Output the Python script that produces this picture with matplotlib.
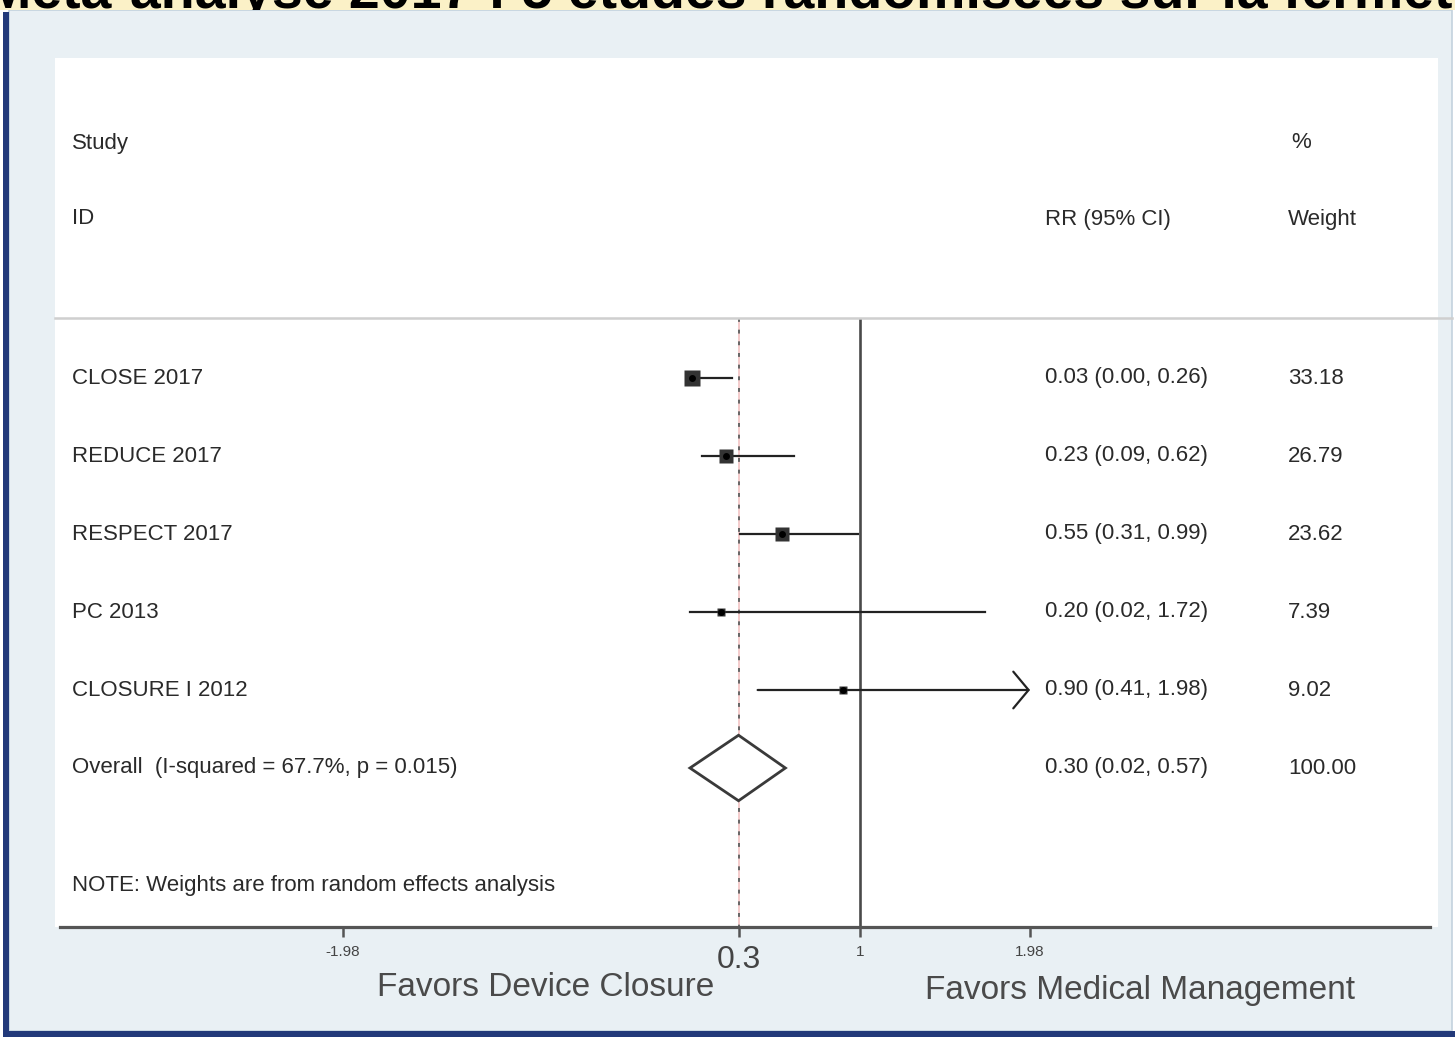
import matplotlib
matplotlib.use("Agg")
import matplotlib.pyplot as plt
from matplotlib.patches import Rectangle, Polygon
from matplotlib.lines import Line2D
import numpy as np

# ---- data -------------------------------------------------------------
studies = ["CLOSE 2017", "REDUCE 2017", "RESPECT 2017", "PC 2013", "CLOSURE I 2012"]
rr = [0.03, 0.23, 0.55, 0.20, 0.90]
ci_low = [0.00, 0.09, 0.31, 0.02, 0.41]
ci_high = [0.26, 0.62, 0.99, 1.72, 1.98]
weights = [33.18, 26.79, 23.62, 7.39, 9.02]

overall_label = "Overall  (I-squared = 67.7%, p = 0.015)"
overall_rr = 0.30
overall_low = 0.02
overall_high = 0.57
overall_weight = 100.00

null_value = 1
tick_values = [-1.98, 0.3, 1, 1.98]
tick_labels = ["-1.98", "0.3", "1", "1.98"]

note_text = "NOTE: Weights are from random effects analysis"
left_caption = "Favors Device Closure"
right_caption = "Favors Medical Management"
slide_title = "Méta-analyse 2017 : 5 études randomisées sur la fermeture du FOP"

# ---- layout (pixels) --------------------------------------------------
W, H = 1455, 1037
plt.rcParams["font.family"] = ["Liberation Sans", "DejaVu Sans"]
TXT = "#2a2a2a"
FS = 16


def fx(px):
    return px / W


def fy(py):
    return 1 - py / H


fig = plt.figure(figsize=(W / 100, H / 100), dpi=100, facecolor="white")

# window frame and slide background (kept behind the axes)
fig.patches.append(Rectangle((fx(9), fy(1031)), (1452 - 9) / W, (1031 - 10) / H,
                             transform=fig.transFigure, facecolor="#e9f0f4",
                             edgecolor="#c3d2de", linewidth=1.2, zorder=-3))
fig.patches.append(Rectangle((fx(3), fy(1037)), 6 / W, (1037 - 12) / H,
                             transform=fig.transFigure, facecolor="#22397a",
                             edgecolor="none", zorder=-2))
fig.patches.append(Rectangle((fx(3), fy(1037)), (W - 3) / W, 6 / H,
                             transform=fig.transFigure, facecolor="#22397a",
                             edgecolor="none", zorder=-2))

# clipped slide title strip at the very top
ax_t = fig.add_axes([0, fy(10), 1, 10 / H])
ax_t.set_facecolor("#fbf1c7")
ax_t.set_xticks([])
ax_t.set_yticks([])
for s in ax_t.spines.values():
    s.set_visible(False)
ax_t.text(-0.01, 0.2, slide_title, transform=ax_t.transAxes, fontsize=40,
          fontweight="bold", color="black", va="baseline",
          ha="left", clip_on=True)

# forest plot axes
AX_L, AX_R, AX_T, AX_B = 55, 1438, 58, 927
ZERO_PX, PX_PER_UNIT = 686.5, 173.5
ROW0_PX, ROW_STEP = 378, 78
ax = fig.add_axes([fx(AX_L), fy(AX_B), (AX_R - AX_L) / W, (AX_B - AX_T) / H])
ax.set_facecolor("white")


def xd(px):
    return (px - ZERO_PX) / PX_PER_UNIT


def row_of(py):
    return (py - ROW0_PX) / ROW_STEP


ax.set_xlim(xd(AX_L), xd(AX_R))
ax.set_ylim(row_of(AX_B), row_of(AX_T))

for name in ("top", "left", "right"):
    ax.spines[name].set_visible(False)
ax.spines["bottom"].set_color("#555555")
ax.spines["bottom"].set_linewidth(2.3)
ax.spines["bottom"].set_bounds(xd(60), xd(1430))
ax.set_yticks([])
ax.set_xticks(tick_values)
ax.set_xticklabels(tick_labels)
ax.tick_params(axis="x", direction="out", length=7, width=1.8, color="#555555",
               pad=6, labelsize=11, labelcolor="#444444")
for lab in ax.get_xticklabels():
    if lab.get_text() == "0.3":
        lab.set_fontsize(23)
        lab.set_color("#444444")

x_study = xd(72)
x_rr = xd(1045)
x_w = xd(1288)
y_sep = row_of(318)

# headers
ax.text(x_study, row_of(143), "Study", fontsize=FS, color=TXT, va="center")
ax.text(x_study, row_of(219), "ID", fontsize=FS, color=TXT, va="center")
ax.text(x_rr, row_of(219), "RR (95% CI)", fontsize=FS, color=TXT, va="center")
ax.text(xd(1291), row_of(143), "%", fontsize=FS, color=TXT, va="center")
ax.text(x_w, row_of(219), "Weight", fontsize=FS, color=TXT, va="center")
fig.add_artist(Line2D([fx(AX_L), fx(1452)], [fy(318), fy(318)], color="#cfcfcf",
                      linewidth=1.8))

# reference lines
ax.vlines(null_value, y_sep, row_of(AX_B), color="#4a4a4a", linewidth=1.9, zorder=2)
ax.vlines(overall_rr, y_sep, row_of(AX_B), color="#f2c4c4", linewidth=1.2, zorder=2)
ax.vlines(overall_rr, y_sep, row_of(AX_B), color="#666666", linewidth=1.4,
          linestyles=(0, (2, 4)), zorder=2)

# study rows
axis_max = max(tick_values)
for i, (name, est, lo, hi, w) in enumerate(zip(studies, rr, ci_low, ci_high, weights)):
    if hi >= axis_max:
        ax.annotate("", xy=(axis_max, i), xytext=(lo, i),
                    arrowprops=dict(arrowstyle="->,head_length=0.5,head_width=0.6",
                                    color="#222222", lw=1.6, shrinkA=0, shrinkB=0,
                                    mutation_scale=22), zorder=3)
    else:
        ax.plot([lo, hi], [i, i], color="#222222", linewidth=1.6, zorder=3)
    side = 16 * np.sqrt(w / max(weights)) * 0.72
    ax.plot(est, i, marker="s", markersize=side, color="#333333", mec="none", zorder=4)
    ax.plot(est, i, marker="o", markersize=5, color="black", mec="none", zorder=5)
    ax.text(x_study, i, name, fontsize=FS, color=TXT, va="center")
    ax.text(x_rr, i, f"{est:.2f} ({lo:.2f}, {hi:.2f})", fontsize=FS, color=TXT,
            va="center")
    ax.text(x_w, i, f"{w:.2f}", fontsize=FS, color=TXT, va="center")

# pooled estimate
yo = len(studies)
half_h = 0.42
ax.add_patch(Polygon([(overall_low, yo), (overall_rr, yo - half_h),
                      (overall_high, yo), (overall_rr, yo + half_h)],
                     closed=True, facecolor="white", edgecolor="#3a3a3a",
                     linewidth=2.0, zorder=4))
ax.text(x_study, yo, overall_label, fontsize=FS, color=TXT, va="center")
ax.text(x_rr, yo, f"{overall_rr:.2f} ({overall_low:.2f}, {overall_high:.2f})",
        fontsize=FS, color=TXT, va="center")
ax.text(x_w, yo, f"{overall_weight:.2f}", fontsize=FS, color=TXT, va="center")

ax.text(x_study, row_of(885), note_text, fontsize=FS, color=TXT, va="center")

# direction captions under the axis
fig.text(fx(546), fy(987), left_caption, fontsize=24,
         color="#4a4a4a", ha="center", va="center")
fig.text(fx(1140), fy(991), right_caption, fontsize=24,
         color="#4a4a4a", ha="center", va="center")

fig.savefig("out.png", dpi=100, facecolor=fig.get_facecolor())
